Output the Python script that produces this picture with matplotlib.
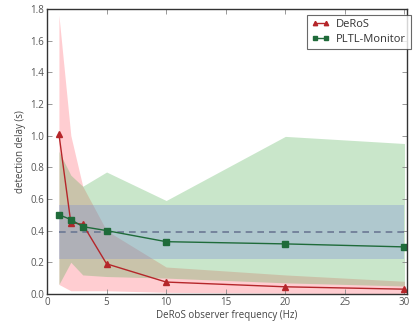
import matplotlib
matplotlib.use("Agg")
import matplotlib.pyplot as plt

plt.rcParams["font.family"] = ["Open Sans", "DejaVu Sans"]

# observer frequencies (Hz)
freq = [1, 2, 3, 5, 10, 20, 30]

# DeRoS: mean delay and spread
deros_mean = [1.01, 0.45, 0.44, 0.19, 0.075, 0.045, 0.03]
deros_hi = [1.76, 1.00, 0.68, 0.40, 0.17, 0.12, 0.08]
deros_lo = [0.06, 0.02, 0.02, 0.02, 0.01, 0.005, 0.0]

# PLTL-Monitor: mean delay and spread
pltl_mean = [0.50, 0.47, 0.425, 0.40, 0.33, 0.316, 0.297]
pltl_hi = [0.90, 0.75, 0.68, 0.77, 0.59, 0.995, 0.95]
pltl_lo = [0.06, 0.20, 0.12, 0.11, 0.10, 0.07, 0.05]

# reference band
band_x = [1, 30]
band_mean = 0.394
band_lo = 0.222
band_hi = 0.563

RED = "#b5262a"
GREEN = "#1f6b3a"
TICK = "#555555"

fig = plt.figure(figsize=(4.16, 3.31), dpi=100)
ax = fig.add_axes([0.113, 0.112, 0.865, 0.861])

ax.fill_between(freq, deros_lo, deros_hi, color="#ff4d5a", alpha=0.28, lw=0)
ax.fill_between(freq, pltl_lo, pltl_hi, color="#4caf50", alpha=0.3, lw=0)
ax.fill_between(band_x, [band_lo] * 2, [band_hi] * 2, color="#7585d8", alpha=0.3, lw=0)
ax.plot(band_x, [band_mean] * 2, ls="--", color="#6b7894", lw=1.2, dashes=(4, 3))

ax.plot(freq, deros_mean, color=RED, marker="^", ms=4.5, lw=1.0, label="DeRoS")
ax.plot(freq, pltl_mean, color=GREEN, marker="s", ms=4.5, lw=1.0, label="PLTL-Monitor")

ax.set_xlim(0, 30.2)
ax.set_ylim(0, 1.8)
ax.set_xticks([0, 5, 10, 15, 20, 25, 30])
ax.set_yticks([0.0, 0.2, 0.4, 0.6, 0.8, 1.0, 1.2, 1.4, 1.6, 1.8])
ax.set_yticklabels([f"{v:.1f}" for v in ax.get_yticks()])
ax.tick_params(direction="in", top=True, right=True, length=3.5, width=0.6,
               labelsize=7, labelcolor=TICK, color="#888888", pad=2)
for spine in ax.spines.values():
    spine.set_edgecolor("#333333")
    spine.set_linewidth(1.0)

ax.set_xlabel("DeRoS observer frequency (Hz)", fontsize=7, color="#444444", labelpad=2)
ax.set_ylabel("detection delay (s)", fontsize=7, color="#444444", labelpad=3)

leg = ax.legend(loc="upper right", bbox_to_anchor=(1.011, 0.979), borderaxespad=0,
                numpoints=2, fontsize=8, fancybox=False, handlelength=1.6,
                markerscale=0.7, labelspacing=0.3, borderpad=0.4, handletextpad=0.6)
leg.get_frame().set_edgecolor("#444444")
leg.get_frame().set_linewidth(0.8)
for t in leg.get_texts():
    t.set_color("#333333")

fig.savefig("out.png", dpi=100)
